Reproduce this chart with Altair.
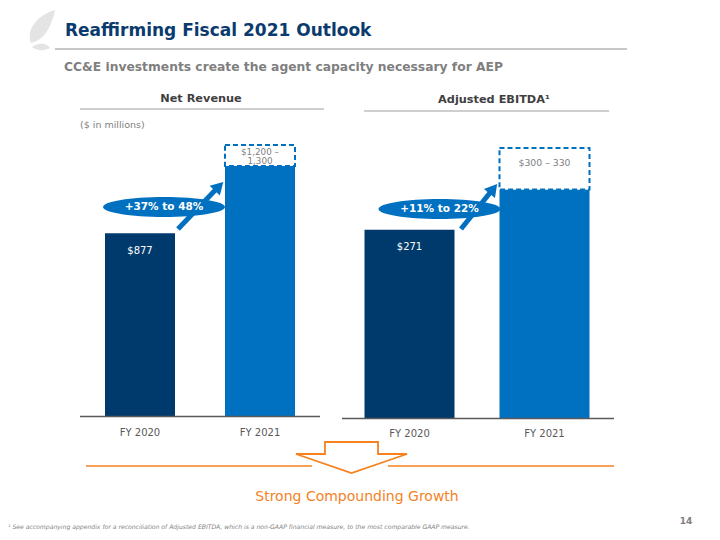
import altair as alt
import pandas as pd

# ---------------- data ----------------
YEARS = ["FY 2020", "FY 2021"]
REV_LOW = [877, 1200]
REV_HIGH = [877, 1300]
REV_LABELS = ["$877", "$1,200 –\n1,300"]
EBITDA_LOW = [271, 300]
EBITDA_HIGH = [271, 330]
EBITDA_LABELS = ["$271", "$300 – 330"]
GROWTH = ["+37% to 48%", "+11% to 22%"]
PANEL_TITLES = ["Net Revenue", "Adjusted EBITDA¹"]
TITLE = "Reaffirming Fiscal 2021 Outlook"
SUBTITLE = "CC&E investments create the agent capacity necessary for AEP"
UNITS = "($ in millions)"
TAKEAWAY = "Strong Compounding Growth"
FOOTNOTE = ("¹ See accompanying appendix for a reconciliation of Adjusted EBITDA, which is a "
            "non-GAAP financial measure, to the most comparable GAAP measure.")
PAGE = "14"

# ---------------- style ----------------
FONT = "DejaVu Sans"
DARK = "#003A6C"
BLUE = "#0070C0"
TITLE_BLUE = "#0B3B6E"
GRAY = "#7F7F7F"
HEAD_GRAY = "#3F3F3F"
LINE_GRAY = "#C8C8C8"
AXIS_GRAY = "#595959"
ORANGE = "#F5821F"

ONE = pd.DataFrame({"k": [0]})

ELLIPSE = "M -1 0 A 1 0.164 0 1 1 1 0 A 1 0.164 0 1 1 -1 0 Z"
LEAF = ("M -0.44 0.52 C -0.64 0 -0.2 -0.6 0.52 -0.8 C 0.4 -0.2 0.12 0.4 -0.44 0.52 Z "
        "M -0.4 0.68 C -0.12 0.48 0.2 0.52 0.32 0.72 C 0.12 0.84 -0.2 0.84 -0.4 0.68 Z")
BLOCK_ARROW = ("M -0.442 -0.258 L 0.442 -0.258 L 0.442 -0.058 L 0.925 -0.058 "
               "L 0 0.258 L -0.925 -0.058 L -0.442 -0.058 Z")


def panel(low, high, labels, ydomain, yrange, xrange, pin, pout, label_y, dy, box_dy,
          box_size, box_lh):
    df = pd.DataFrame({"year": YEARS, "low": low, "high": high, "label": labels})
    xs = alt.X("year:N", scale=alt.Scale(domain=YEARS, range=xrange,
                                         paddingInner=pin, paddingOuter=pout), axis=None)
    ys = alt.Scale(domain=ydomain, range=yrange, zero=False, nice=False)
    base = alt.Chart(df).encode(x=xs)
    bars = base.mark_bar().encode(
        y=alt.Y("low:Q", scale=ys, axis=None),
        y2=alt.datum(ydomain[0]),
        color=alt.Color("year:N", scale=alt.Scale(domain=YEARS, range=[DARK, BLUE]), legend=None),
    )
    box = base.transform_filter("datum.high > datum.low").mark_bar(
        fill="white", stroke=BLUE, strokeWidth=2, strokeDash=[5, 3]
    ).encode(y=alt.Y("low:Q", scale=ys, axis=None), y2="high:Q")
    inbar = base.transform_filter("datum.high == datum.low").mark_text(
        color="white", font=FONT, fontSize=10, dy=dy
    ).encode(y=alt.Y("low:Q", scale=ys, axis=None), text="label:N")
    inbox = base.transform_filter("datum.high > datum.low").mark_text(
        color=GRAY, font=FONT, fontSize=box_size, lineBreak="\n", lineHeight=box_lh,
        baseline="top", dy=box_dy
    ).encode(y=alt.Y("high:Q", scale=ys, axis=None), text="label:N")
    xlab = base.mark_text(color=AXIS_GRAY, font=FONT, fontSize=10, baseline="middle").encode(
        y=alt.value(label_y), text="year:N")
    return alt.layer(bars, box, inbar, inbox, xlab)


left = panel(REV_LOW, REV_HIGH, REV_LABELS, [0, 1300], [408.5, 137], [72, 312],
             0.4167, 0.2083, 425, 18, 2.5, 8.8, 9.3)
right = panel(EBITDA_LOW, EBITDA_HIGH, EBITDA_LABELS, [135, 330], [410.5, 140], [334, 604],
              0.3333, 0.1667, 426, 17, 11, 9.3, 10.5)


def txt(text, x, y, size, color, weight="normal", align="left", style="normal", baseline="middle"):
    return alt.Chart(pd.DataFrame({"t": [text]})).mark_text(
        font=FONT, fontSize=size, color=color, fontWeight=weight, align=align,
        fontStyle=style, baseline=baseline
    ).encode(x=alt.value(x), y=alt.value(y), text="t:N")


def hline(x1, x2, y, color, w):
    return alt.Chart(ONE).mark_rule(color=color, strokeWidth=w).encode(
        x=alt.value(x1), x2=alt.value(x2), y=alt.value(y))


def seg(x1, y1, x2, y2, color, w):
    return alt.Chart(ONE).mark_rule(color=color, strokeWidth=w).encode(
        x=alt.value(x1), x2=alt.value(x2), y=alt.value(y1), y2=alt.value(y2))


def shape(path, x, y, size, fill, stroke=None, sw=0, angle=0):
    kw = dict(shape=path, size=size, fill=fill, filled=True, opacity=1, fillOpacity=1, angle=angle)
    if stroke:
        kw.update(stroke=stroke, strokeWidth=sw, strokeOpacity=1)
    else:
        kw.update(strokeWidth=0)
    return alt.Chart(ONE).mark_point(**kw).encode(x=alt.value(x), y=alt.value(y))


decor = [
    shape(LEAF, 34, 22, 2500, "#E4E4E4"),
    txt(TITLE, 57, 28, 17, TITLE_BLUE, "bold", baseline="alphabetic"),
    hline(47, 619, 41, LINE_GRAY, 2),
    txt(SUBTITLE, 56, 59, 12.3, GRAY, "bold"),
    txt(PANEL_TITLES[0], 193, 91, 11.3, HEAD_GRAY, "bold", align="center"),
    hline(72, 316, 101, "#BFBFBF", 1.5),
    txt(PANEL_TITLES[1], 486, 92, 11.3, HEAD_GRAY, "bold", align="center"),
    hline(356, 601, 103, "#BFBFBF", 1.5),
    txt(UNITS, 72, 117, 9.5, GRAY),
    hline(72, 312, 408.5, AXIS_GRAY, 1.5),
    hline(334, 606, 410.5, AXIS_GRAY, 1.5),
    # growth arrows
    seg(170, 221, 209.5, 179.8, BLUE, 5),
    shape("triangle-up", 211, 178.3, 200, BLUE, angle=44),
    seg(453, 221, 484, 182.2, BLUE, 5),
    shape("triangle-up", 485.3, 180.7, 200, BLUE, angle=39),
    shape(ELLIPSE, 156, 199, 122 * 122, BLUE),
    txt(GROWTH[0], 156, 199, 10.5, "white", "bold", align="center"),
    shape(ELLIPSE, 431.5, 201, 122 * 122, BLUE),
    txt(GROWTH[1], 431.5, 201, 10.5, "white", "bold", align="center"),
    # takeaway
    hline(78, 304, 458, ORANGE, 1.5),
    hline(380, 606, 458, ORANGE, 1.5),
    shape(BLOCK_ARROW, 343.5, 449.5, 120 * 120, "white", ORANGE, 1.8),
    txt(TAKEAWAY, 349, 489, 14, ORANGE, align="center"),
    txt(FOOTNOTE, 0, 519, 6.1, GRAY, style="italic"),
    txt(PAGE, 678, 513, 9, GRAY, "bold", align="center"),
]

chart = alt.layer(left, right, *decor).resolve_scale(
    x="independent", y="independent"
).properties(
    width=704, height=524, padding=0, autosize=alt.AutoSizeParams(type="none")
).configure_view(stroke=None)

chart.save("out.html", embed_options={"renderer": "svg", "actions": False})
